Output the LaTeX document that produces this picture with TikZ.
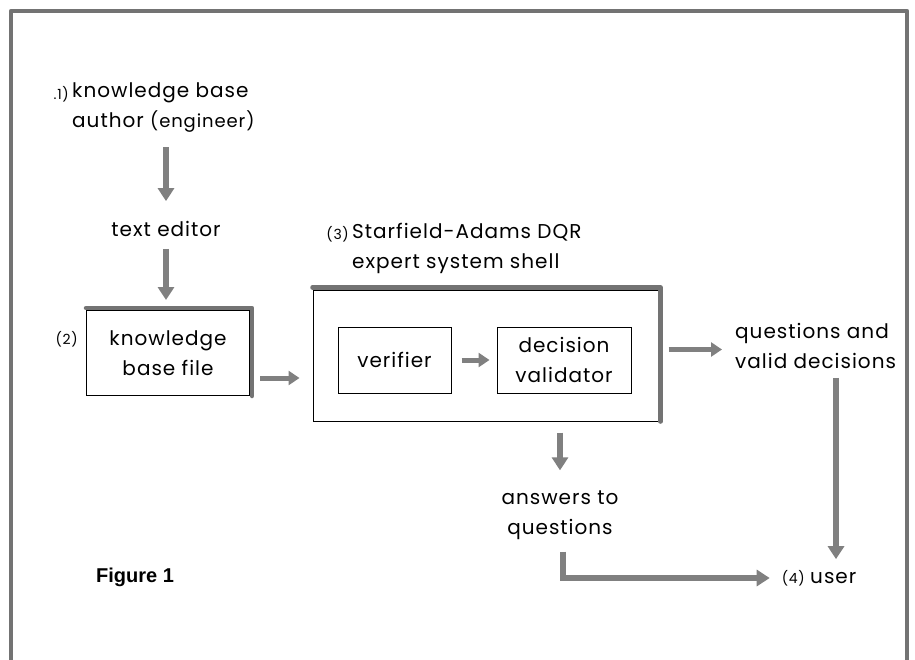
\documentclass[tikz,border=0pt]{standalone}
\usepackage{fontspec}
\setmainfont{Poppins}[LetterSpace=5]
\newfontfamily\figfont{Liberation Sans}
\usetikzlibrary{arrows.meta, positioning}
\tikzstyle{label}  = [inner sep=0pt, align=center, font=\fontsize{20}{30}\selectfont]
\tikzstyle{tag}    = [inner sep=0pt, font=\fontsize{14}{16}\selectfont]
\tikzstyle{box}    = [rectangle, draw=black, line width=1pt, inner sep=0pt,
                      align=center, font=\fontsize{20}{30}\selectfont]
\tikzstyle{shadow} = [draw=black!55, line width=4.5pt, line cap=round, line join=round]
\tikzstyle{arrow}  = [line width=6pt, draw=black!50,
                      -{Triangle[length=13pt,width=16pt]}]
\tikzstyle{small arrow} = [line width=5pt, draw=black!50,
                      -{Triangle[length=11pt,width=14pt]}]

\begin{document}
\begin{tikzpicture}[x=1pt, y=-1pt]

  \useasboundingbox (0,0) rectangle (915,659);

  % Frame
  \draw[shadow, line cap=butt] (11,670) -- (11,11) -- (907,11) -- (907,670);

  % Knowledge base author
  \node[label, align=left, anchor=west] (author) at (72,108)
        {knowledge base\\author {\fontsize{18}{30}\selectfont(engineer)}};
  \node[tag, anchor=east] (authortag) at (69,94) {.1)};

  % Text editor
  \node[label] (editor) at (166,229) {text editor};
  \draw[arrow, shorten <=14pt, shorten >=20pt] (author.south -| editor) -- (editor.north);

  % Knowledge base file
  \node[box, minimum width=163pt, minimum height=85pt] (kb) at (168,353)
        {knowledge\\base file};
  \draw[shadow] ([yshift=2pt]kb.north west) -- ([xshift=2pt,yshift=2pt]kb.north east)
        -- ([xshift=2pt]kb.south east);
  \node[tag, left=8pt of kb.west, yshift=14pt] (kbtag) {(2)};
  \draw[arrow, shorten <=12pt, shorten >=10pt] (editor.south) -- (editor.south |- kb.north);

  % Expert system shell
  \node[box, minimum width=345pt, minimum height=131pt] (shell) at (485.5,355.5) {};
  \draw[shadow] ([yshift=2pt]shell.north west) -- ([xshift=2pt,yshift=2pt]shell.north east)
        -- ([xshift=2pt]shell.south east);
  \node[label, align=left, anchor=west] (title) at (352,248)
        {Starfield-Adams DQR\\expert system shell};
  \node[tag, anchor=east] (shelltag) at (349,234) {(3)};
  \draw[small arrow, shorten <=10pt, shorten >=13pt]
        ([yshift=-25pt]kb.east) -- ([yshift=-25pt]kb.east -| shell.west);

  % Inner boxes
  \node[box, minimum width=113pt, minimum height=66pt] (verifier) at (394.5,360) {verifier};
  \node[box, minimum width=134pt, minimum height=66pt] (validator) at (564,360)
        {decision\\validator};
  \draw[small arrow, shorten <=10pt, shorten >=7pt] (verifier.east) -- (validator.west);

  % Outputs
  \node[label, align=left, anchor=west] (outputs) at (735,346)
        {questions and\\valid decisions};
  \draw[small arrow, shorten <=10pt, shorten >=13pt]
        ([yshift=6pt]shell.east) -- ([yshift=6pt]shell.east -| outputs.west);

  \node[label, align=center] (answers) at (560,515) {answers to\\questions};
  \draw[arrow, shorten <=11pt, shorten >=20pt] (shell.south -| answers) -- (answers.north);

  % User
  \node[label, anchor=west] (user) at (810,578) {user};
  \node[tag, left=5pt of user] (usertag) {(4)};
  \draw[arrow, shorten <=9pt, shorten >=13pt] (outputs.south -| 836,0) -- (836,578 |- user.north);
  \draw[arrow, line join=miter, shorten <=12pt, shorten >=12pt]
        ([xshift=3pt]answers.south) |- (usertag.west);

  % Caption
  \node[inner sep=0pt, font=\figfont\bfseries\fontsize{20}{22}\selectfont, anchor=west]
        (figure) at (96,577) {Figure 1};

\end{tikzpicture}
\end{document}
